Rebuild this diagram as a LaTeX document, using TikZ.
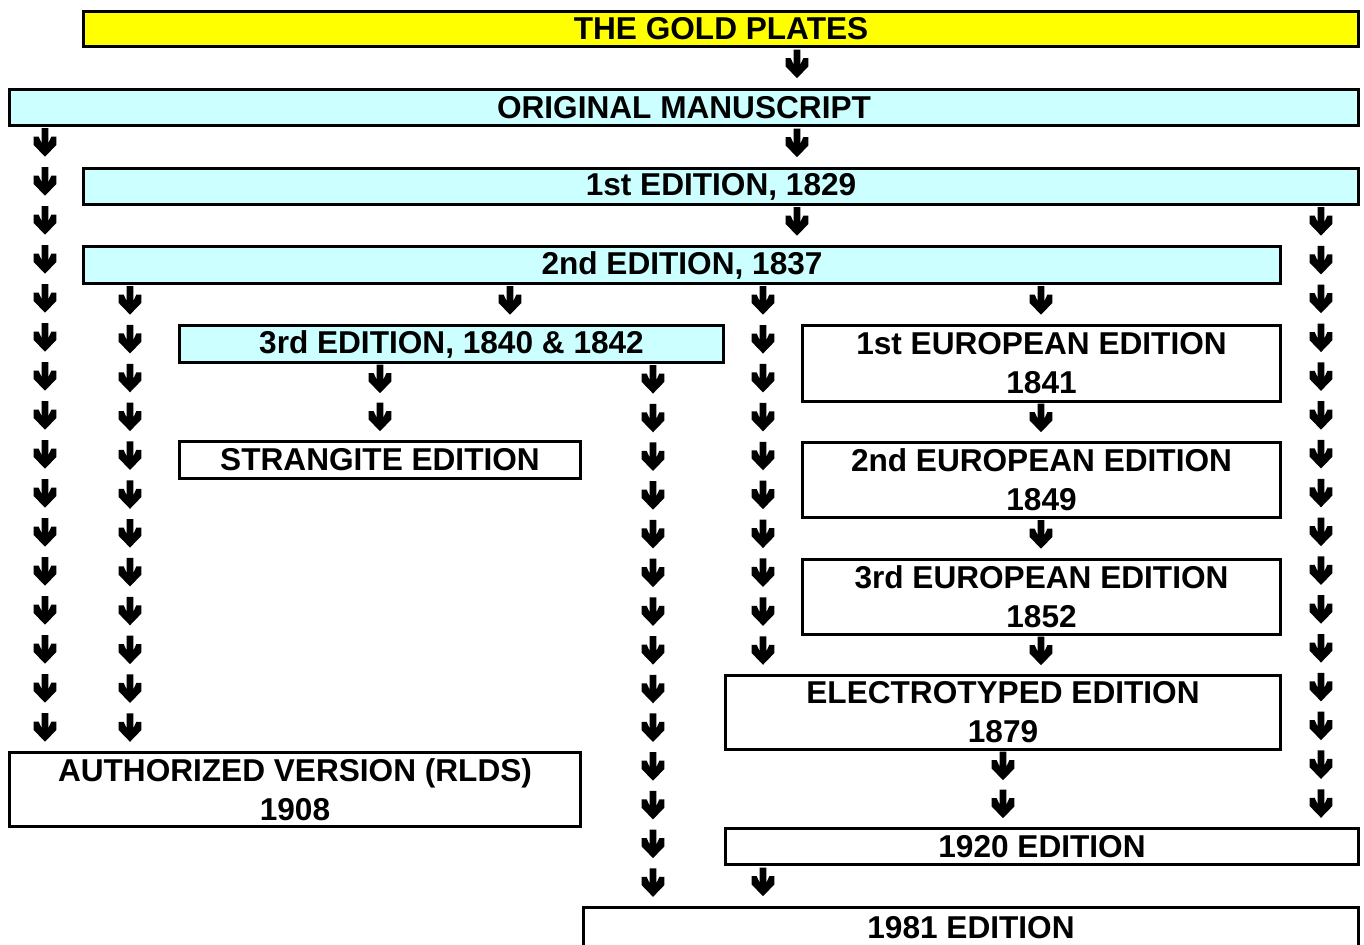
\documentclass[tikz,border=0pt]{standalone}
\usepackage{fontspec}
\setmainfont{Liberation Sans}
\usetikzlibrary{calc}
\definecolor{plategold}{HTML}{FFFF00}
\definecolor{editioncyan}{HTML}{CCFFFF}
\tikzset{
        x=0.5pt, y=-0.5pt, % one unit is one pixel of the sheet, y runs down
        edition/.style={draw, line width=1.5pt, inner sep=0pt, align=center,
            font=\bfseries\fontsize{15.8}{19.5}\selectfont}, % every box
        darr/.pic={\fill (-3.3,-18.3) -- (3.3,-18.3) -- (3.3,-3.2) -- (6.3,-9.8) -- (11.3,-9.8)
            -- (11.3,-1.5) -- (0,10.2) -- (-11.3,-1.5) -- (-11.3,-9.8) -- (-6.3,-9.8)
            -- (-3.3,-3.2) -- cycle;}, % the heavy down arrow
    }

\begin{document}
\begin{tikzpicture}
    \useasboundingbox (0,0) rectangle (1364,944);
    \node[edition, fill=plategold, minimum width=637.5pt, minimum height=17.5pt] (gold) at (721,29) {THE GOLD PLATES};
    \node[edition, fill=editioncyan, minimum width=674.5pt, minimum height=18pt] (ms) at (684,107.5) {ORIGINAL MANUSCRIPT};
    \node[edition, fill=editioncyan, minimum width=637.5pt, minimum height=18pt] (ed1) at (721,186.5) {1st EDITION, 1829};
    \node[edition, fill=editioncyan, minimum width=598.5pt, minimum height=18.5pt] (ed2) at (682,265) {2nd EDITION, 1837};
    \node[edition, fill=editioncyan, minimum width=272pt, minimum height=18.5pt] (ed3) at (451.5,344) {3rd EDITION, 1840 \& 1842};
    \node[edition, minimum width=239pt, minimum height=38pt] (eu1) at (1041.5,363.5) {1st EUROPEAN EDITION\\1841};
    \node[edition, minimum width=200.5pt, minimum height=18.5pt] (str) at (380,460) {STRANGITE EDITION};
    \node[edition, minimum width=239pt, minimum height=37.5pt] (eu2) at (1041.5,480) {2nd EUROPEAN EDITION\\1849};
    \node[edition, minimum width=239pt, minimum height=37.5pt] (eu3) at (1041.5,597) {3rd EUROPEAN EDITION\\1852};
    \node[edition, minimum width=277.5pt, minimum height=37pt] (elec) at (1003,712.5) {ELECTROTYPED EDITION\\1879};
    \node[edition, minimum width=285.5pt, minimum height=37pt] (auth) at (295,789.5) {AUTHORIZED VERSION (RLDS)\\1908};
    \node[edition, minimum width=316.5pt, minimum height=18pt] (e1920) at (1042,846.5) {1920 EDITION};
    \node[edition, minimum width=387.5pt, minimum height=20pt] (e1981) at (971,927.5) {1981 EDITION};

    % columns of arrows: x, from box, to box, number of arrows
    \foreach \cx/\src/\dst/\cnt in {797/gold/ms/1, 797/ms/ed1/1, 797/ed1/ed2/1,
            45/ms/auth/16, 130/ed2/auth/12, 510/ed2/ed3/1, 763/ed2/elec/10,
            1041/ed2/eu1/1, 1041/eu1/eu2/1, 1041/eu2/eu3/1, 1041/eu3/elec/1,
            1321/ed1/e1920/16, 380/ed3/str/2, 653/ed3/e1981/14,
            1003/elec/e1920/2, 763/e1920/e1981/1}{
        \path (\src.south -| \cx,0) coordinate (s) (\dst.north -| \cx,0) coordinate (e);
        \foreach \k in {1,...,\cnt}
            \pic at ($(s)!{(\k-0.5)/\cnt}!(e)$) {darr};
    }
\end{tikzpicture}
\end{document}
